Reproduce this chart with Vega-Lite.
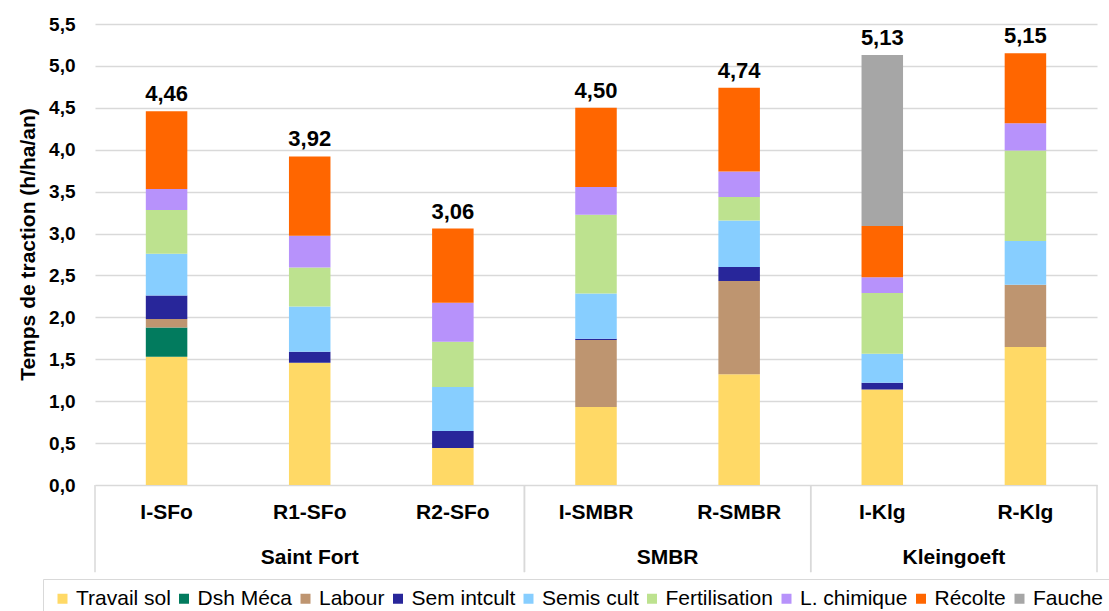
{
  "$schema": "https://vega.github.io/schema/vega-lite/v6.json",
  "width": 1002,
  "height": 461,
  "autosize": {"type": "none"},
  "padding": {"left": 95, "top": 24, "right": 12, "bottom": 126},
  "background": "white",
  "config": {
    "view": {"stroke": null},
    "font": "Liberation Sans",
    "locale": {"number": {"decimal": ",", "thousands": " ", "grouping": [3], "currency": ["", " €"]}}
  },
  "datasets": {
    "main": [
      {"site": "I-SFo", "group": "Saint Fort", "activity": "Travail sol", "value": 1.53},
      {"site": "I-SFo", "group": "Saint Fort", "activity": "Dsh Méca", "value": 0.35},
      {"site": "I-SFo", "group": "Saint Fort", "activity": "Labour", "value": 0.10},
      {"site": "I-SFo", "group": "Saint Fort", "activity": "Sem intcult", "value": 0.28},
      {"site": "I-SFo", "group": "Saint Fort", "activity": "Semis cult", "value": 0.50},
      {"site": "I-SFo", "group": "Saint Fort", "activity": "Fertilisation", "value": 0.52},
      {"site": "I-SFo", "group": "Saint Fort", "activity": "L. chimique", "value": 0.25},
      {"site": "I-SFo", "group": "Saint Fort", "activity": "Récolte", "value": 0.93},
      {"site": "R1-SFo", "group": "Saint Fort", "activity": "Travail sol", "value": 1.46},
      {"site": "R1-SFo", "group": "Saint Fort", "activity": "Sem intcult", "value": 0.13},
      {"site": "R1-SFo", "group": "Saint Fort", "activity": "Semis cult", "value": 0.54},
      {"site": "R1-SFo", "group": "Saint Fort", "activity": "Fertilisation", "value": 0.465},
      {"site": "R1-SFo", "group": "Saint Fort", "activity": "L. chimique", "value": 0.38},
      {"site": "R1-SFo", "group": "Saint Fort", "activity": "Récolte", "value": 0.945},
      {"site": "R2-SFo", "group": "Saint Fort", "activity": "Travail sol", "value": 0.44},
      {"site": "R2-SFo", "group": "Saint Fort", "activity": "Sem intcult", "value": 0.205},
      {"site": "R2-SFo", "group": "Saint Fort", "activity": "Semis cult", "value": 0.525},
      {"site": "R2-SFo", "group": "Saint Fort", "activity": "Fertilisation", "value": 0.54},
      {"site": "R2-SFo", "group": "Saint Fort", "activity": "L. chimique", "value": 0.465},
      {"site": "R2-SFo", "group": "Saint Fort", "activity": "Récolte", "value": 0.885},
      {"site": "I-SMBR", "group": "SMBR", "activity": "Travail sol", "value": 0.93},
      {"site": "I-SMBR", "group": "SMBR", "activity": "Labour", "value": 0.80},
      {"site": "I-SMBR", "group": "SMBR", "activity": "Sem intcult", "value": 0.015},
      {"site": "I-SMBR", "group": "SMBR", "activity": "Semis cult", "value": 0.54},
      {"site": "I-SMBR", "group": "SMBR", "activity": "Fertilisation", "value": 0.94},
      {"site": "I-SMBR", "group": "SMBR", "activity": "L. chimique", "value": 0.33},
      {"site": "I-SMBR", "group": "SMBR", "activity": "Récolte", "value": 0.945},
      {"site": "R-SMBR", "group": "SMBR", "activity": "Travail sol", "value": 1.32},
      {"site": "R-SMBR", "group": "SMBR", "activity": "Labour", "value": 1.115},
      {"site": "R-SMBR", "group": "SMBR", "activity": "Sem intcult", "value": 0.165},
      {"site": "R-SMBR", "group": "SMBR", "activity": "Semis cult", "value": 0.555},
      {"site": "R-SMBR", "group": "SMBR", "activity": "Fertilisation", "value": 0.28},
      {"site": "R-SMBR", "group": "SMBR", "activity": "L. chimique", "value": 0.305},
      {"site": "R-SMBR", "group": "SMBR", "activity": "Récolte", "value": 1.0},
      {"site": "I-Klg", "group": "Kleingoeft", "activity": "Travail sol", "value": 1.14},
      {"site": "I-Klg", "group": "Kleingoeft", "activity": "Sem intcult", "value": 0.08},
      {"site": "I-Klg", "group": "Kleingoeft", "activity": "Semis cult", "value": 0.345},
      {"site": "I-Klg", "group": "Kleingoeft", "activity": "Fertilisation", "value": 0.725},
      {"site": "I-Klg", "group": "Kleingoeft", "activity": "L. chimique", "value": 0.19},
      {"site": "I-Klg", "group": "Kleingoeft", "activity": "Récolte", "value": 0.61},
      {"site": "I-Klg", "group": "Kleingoeft", "activity": "Fauche", "value": 2.04},
      {"site": "R-Klg", "group": "Kleingoeft", "activity": "Travail sol", "value": 1.645},
      {"site": "R-Klg", "group": "Kleingoeft", "activity": "Labour", "value": 0.745},
      {"site": "R-Klg", "group": "Kleingoeft", "activity": "Semis cult", "value": 0.52},
      {"site": "R-Klg", "group": "Kleingoeft", "activity": "Fertilisation", "value": 1.08},
      {"site": "R-Klg", "group": "Kleingoeft", "activity": "L. chimique", "value": 0.325},
      {"site": "R-Klg", "group": "Kleingoeft", "activity": "Récolte", "value": 0.835}
    ],
    "activities": [
      {"activity": "Travail sol", "rank": 1},
      {"activity": "Dsh Méca", "rank": 2},
      {"activity": "Labour", "rank": 3},
      {"activity": "Sem intcult", "rank": 4},
      {"activity": "Semis cult", "rank": 5},
      {"activity": "Fertilisation", "rank": 6},
      {"activity": "L. chimique", "rank": 7},
      {"activity": "Récolte", "rank": 8},
      {"activity": "Fauche", "rank": 9}
    ],
    "groups": [
      {"group": "Saint Fort", "first": "I-SFo", "last": "R2-SFo"},
      {"group": "SMBR", "first": "I-SMBR", "last": "R-SMBR"},
      {"group": "Kleingoeft", "first": "I-Klg", "last": "R-Klg"}
    ]
  },
  "layer": [
    {
      "data": {"name": "main"},
      "transform": [
        {"lookup": "activity", "from": {"data": {"name": "activities"}, "key": "activity", "fields": ["rank"]}}
      ],
      "mark": {"type": "bar", "width": {"band": 0.29}},
      "encoding": {
        "x": {
          "field": "site", "type": "nominal",
          "sort": ["I-SFo", "R1-SFo", "R2-SFo", "I-SMBR", "R-SMBR", "I-Klg", "R-Klg"],
          "scale": {"domain": ["I-SFo", "R1-SFo", "R2-SFo", "I-SMBR", "R-SMBR", "I-Klg", "R-Klg"], "paddingInner": 0, "paddingOuter": 0},
          "axis": {
            "title": null, "domain": false, "ticks": false, "labelAngle": 0,
            "labelFontSize": 21, "labelFontWeight": "bold", "labelColor": "#000000",
            "labelPadding": 16, "grid": false
          }
        },
        "y": {
          "aggregate": "sum", "field": "value", "type": "quantitative",
          "scale": {"domain": [0, 5.5], "nice": false, "zero": true},
          "axis": {
            "title": "Temps de traction (h/ha/an)",
            "titleFontSize": 21, "titleFontWeight": "bold", "titleColor": "#000000",
            "titlePadding": 10, "titleY": 220,
            "values": [0, 0.5, 1, 1.5, 2, 2.5, 3, 3.5, 4, 4.5, 5, 5.5],
            "format": ".1f", "domain": false, "ticks": false,
            "labelFontSize": 19, "labelFontWeight": "bold", "labelColor": "#000000",
            "labelPadding": 20, "gridColor": "#d9d9d9", "gridWidth": 1.5
          }
        },
        "order": {"field": "rank", "type": "quantitative", "sort": "ascending"},
        "color": {
          "field": "activity", "type": "nominal",
          "scale": {
            "domain": ["Travail sol", "Dsh Méca", "Labour", "Sem intcult", "Semis cult", "Fertilisation", "L. chimique", "Récolte", "Fauche"],
            "range": ["#FFD966", "#027B5E", "#BE9570", "#28269A", "#87CEFF", "#BDE28F", "#B792FB", "#FF6600", "#A6A6A6"]
          },
          "legend": {
            "title": null, "orient": "none", "legendX": -52, "legendY": 555,
            "direction": "horizontal", "strokeColor": "#d9d9d9", "fillColor": "white",
            "padding": 9, "symbolType": "square", "symbolSize": 100, "symbolStrokeWidth": 0,
            "labelFontSize": 21, "labelColor": "#000000", "labelOffset": 3, "columnPadding": 2.5
          }
        }
      }
    },
    {
      "data": {"name": "main"},
      "transform": [{"aggregate": [{"op": "sum", "field": "value", "as": "total"}], "groupby": ["site"]}],
      "mark": {"type": "text", "baseline": "alphabetic", "dy": -10, "fontSize": 22, "fontWeight": "bold", "color": "#000000"},
      "encoding": {
        "x": {"field": "site", "type": "nominal", "sort": ["I-SFo", "R1-SFo", "R2-SFo", "I-SMBR", "R-SMBR", "I-Klg", "R-Klg"]},
        "y": {"field": "total", "type": "quantitative", "scale": {"domain": [0, 5.5], "nice": false}, "title": "Temps de traction (h/ha/an)"},
        "text": {"field": "total", "type": "quantitative", "format": ".2f"}
      }
    },
    {
      "data": {"name": "groups"},
      "mark": {"type": "rule", "color": "#d9d9d9", "strokeWidth": 1.5},
      "encoding": {
        "x": {"field": "first", "type": "nominal", "bandPosition": 0, "sort": ["I-SFo", "R1-SFo", "R2-SFo", "I-SMBR", "R-SMBR", "I-Klg", "R-Klg"]},
        "y": {"datum": 0, "type": "quantitative", "scale": {"domain": [0, 5.5], "nice": false}},
        "y2": {"datum": -1.04}
      }
    },
    {
      "data": {"name": "groups"},
      "mark": {"type": "rule", "color": "#d9d9d9", "strokeWidth": 1.5},
      "encoding": {
        "x": {"field": "last", "type": "nominal", "bandPosition": 1, "sort": ["I-SFo", "R1-SFo", "R2-SFo", "I-SMBR", "R-SMBR", "I-Klg", "R-Klg"]},
        "y": {"datum": 0, "type": "quantitative", "scale": {"domain": [0, 5.5], "nice": false}},
        "y2": {"datum": -1.04}
      }
    },
    {
      "data": {"name": "groups"},
      "transform": [{"filter": "datum.group == 'Saint Fort'"}],
      "mark": {"type": "text", "baseline": "middle", "fontSize": 21, "fontWeight": "bold", "color": "#000000"},
      "encoding": {
        "x": {"field": "first", "type": "nominal", "bandPosition": 1.5, "sort": ["I-SFo", "R1-SFo", "R2-SFo", "I-SMBR", "R-SMBR", "I-Klg", "R-Klg"]},
        "y": {"datum": -0.87, "type": "quantitative", "scale": {"domain": [0, 5.5], "nice": false}},
        "text": {"field": "group"}
      }
    },
    {
      "data": {"name": "groups"},
      "transform": [{"filter": "datum.group != 'Saint Fort'"}],
      "mark": {"type": "text", "baseline": "middle", "fontSize": 21, "fontWeight": "bold", "color": "#000000"},
      "encoding": {
        "x": {"field": "first", "type": "nominal", "bandPosition": 1, "sort": ["I-SFo", "R1-SFo", "R2-SFo", "I-SMBR", "R-SMBR", "I-Klg", "R-Klg"]},
        "y": {"datum": -0.87, "type": "quantitative", "scale": {"domain": [0, 5.5], "nice": false}},
        "text": {"field": "group"}
      }
    }
  ]
}
